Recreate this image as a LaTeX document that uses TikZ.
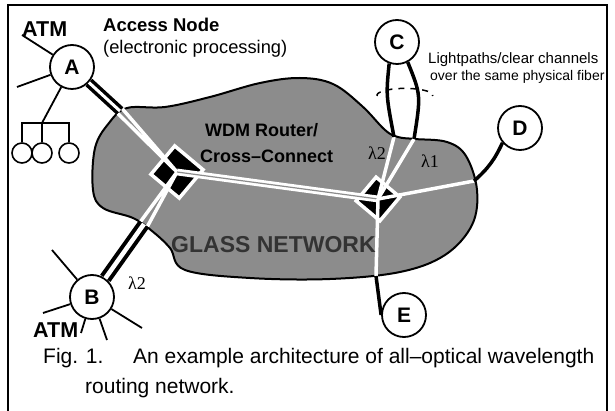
\documentclass[tikz,border=0pt]{standalone}
\usepackage{fontspec}
\setmainfont{Liberation Sans}
\newfontfamily\lamfont{Liberation Serif}
\usetikzlibrary{positioning}
\definecolor{glass}{HTML}{8C8C8C}
\tikzset{station/.style={circle,draw,line width=1.8pt,fill=white,minimum size=44pt,inner sep=0pt,font=\fontsize{21}{21}\selectfont\bfseries},
leaf/.style={circle,draw,line width=1.6pt,minimum size=20pt,inner sep=0pt},
router/.style={rectangle,fill=black,draw=white,line width=3.5pt,rotate=50,inner sep=0pt},
spoke/.style={line width=1.8pt},fiber/.style={line width=3.5pt},
fiberpair/.style={line width=3.5pt,double=white,double distance=3pt},
glassline/.style={white,line width=3.5pt},
lbl/.style={inner sep=0pt,anchor=base west},
lam/.style={lbl,font=\lamfont\fontsize{18}{18}\selectfont}}

\begin{document}
\begin{tikzpicture}[x=1pt,y=-1pt]
\useasboundingbox (0,0) rectangle (615,411);
\draw[line width=2pt] (8,411) -- (8,5) -- (607,5) -- (607,411);
\draw[line width=2pt,fill=glass] plot[smooth cycle,tension=0.6] coordinates {(95,148) (109,123) (127,108) (165,107) (210,97) (260,83) (300,78) (333,84) (362,106) (385,130) (398,137) (415,139) (447,142) (466,156) (477,190) (472,225) (445,255) (400,272) (330,279) (250,278) (185,270) (170,248) (152,231) (133,218) (103,208) (93,190)};
\node[router,minimum size=37pt] (L) at (177,172) {};
\node[router,minimum size=31pt] (R) at (378,199) {};
\node[station] (A) at (72,67) {A};
\node[station] (B) at (92,297) {B};
\node[station] (C) at (397,42) {C};
\node[station] (D) at (520,128) {D};
\node[station] (E) at (404,315) {E};
\node[leaf] (t1) at (22,153) {};
\node[leaf] (t2) at (42,153) {};
\node[leaf] (t3) at (69,153) {};
\coordinate (aIn) at (120,111);
\coordinate (aIn1) at (122.2,108.6);
\coordinate (aIn2) at (117.8,113.4);
\coordinate (bIn) at (144,224);
\coordinate (bIn1) at (147.4,226.5);
\coordinate (bIn2) at (140.6,221.5);
\coordinate (cIn1) at (394,137);
\coordinate (cIn2) at (414,139);
\coordinate (dIn) at (474,181);
\coordinate (eIn) at (376,276);
% light paths inside the glass
\draw[glassline] (aIn1) -- (L.center) (aIn2) -- (L.center);
\draw[glassline] (bIn1) -- (L.center) (bIn2) -- (L.center);
\draw[glassline,line width=2.8pt,double=glass,double distance=1.2pt] (L.center) -- (R.center);
\draw[glassline] (R.center) -- (cIn1) (R.center) -- (cIn2);
\draw[glassline] (R.center) -- (dIn) (R.center) -- (eIn);
% fibers to the stations
\draw[fiberpair] (A) -- (aIn);
\draw[fiberpair,line width=4pt,double distance=4.5pt] (B) -- (bIn);
\draw[fiber] (C.250) .. controls (386,95) .. (cIn1);
\draw[fiber] (C.298) .. controls (421,95) .. (cIn2);
\draw[fiber] (dIn) to[bend right=12] (D.220);
\draw[fiber] (eIn) -- (E.west);
\draw[line width=1.5pt,dash pattern=on 6pt off 6pt] (377,96) arc[start angle=175,end angle=365,x radius=28,y radius=7];
% ATM side
\coordinate (a1) at (22,35);
\coordinate (a2) at (17,87);
\coordinate (tj) at (42,123);
\draw[spoke] (A) -- (a1) (A) -- (a2) (A) -- (tj);
\draw[spoke] (t1.north) |- (tj) -| (t3.north);
\draw[spoke] (tj) -- (t2.north);
\coordinate (b1) at (52,250);
\coordinate (b2) at (43,313);
\coordinate (b3) at (81,333);
\coordinate (b4) at (107,340);
\coordinate (b5) at (142,328);
\draw[spoke] (B) -- (b1) (B) -- (b2) (B) -- (b3) (B) -- (b4) (B) -- (b5);
% labels
\node[lbl,font=\fontsize{21.5}{22}\selectfont\bfseries] (atmA) at (22,37) {ATM};
\node[lbl,font=\fontsize{21.5}{22}\selectfont\bfseries] (atmB) at (33,337) {ATM};
\node[lbl,font=\fontsize{18.5}{19}\selectfont\bfseries] (access) at (103,32) {Access Node};
\node[lbl,font=\fontsize{18.3}{19}\selectfont] (proc) at (103,54) {(electronic processing)};
\node[lbl,font=\fontsize{15}{15}\selectfont] (lp1) at (428,64) {Lightpaths/clear channels};
\node[lbl,font=\fontsize{14}{15}\selectfont] (lp2) at (430,81) {over the same physical fiber};
\node[lbl,font=\fontsize{18}{19}\selectfont\bfseries] (wdm1) at (205,137) {WDM Router/};
\node[lbl,font=\fontsize{18}{19}\selectfont\bfseries] (wdm2) at (200,163) {Cross–Connect};
\node[lbl,font=\fontsize{23}{23}\selectfont\bfseries,text=black!80] (gn) at (171,253) {GLASS NETWORK};
\node[lam] (lamC) at (368,160) {λ2};
\node[lam] (lamD) at (421,168) {λ1};
\node[lam] (lamB) at (128,290) {λ2};
\node[lbl,font=\fontsize{21}{22}\selectfont] (fig) at (43,363) {Fig. 1.};
\node[lbl,font=\fontsize{21}{22}\selectfont] (cap1) at (133,363) {An example architecture of all–optical wavelength};
\node[lbl,font=\fontsize{21}{22}\selectfont] (cap2) at (85,393) {routing network.};
\end{tikzpicture}
\end{document}
